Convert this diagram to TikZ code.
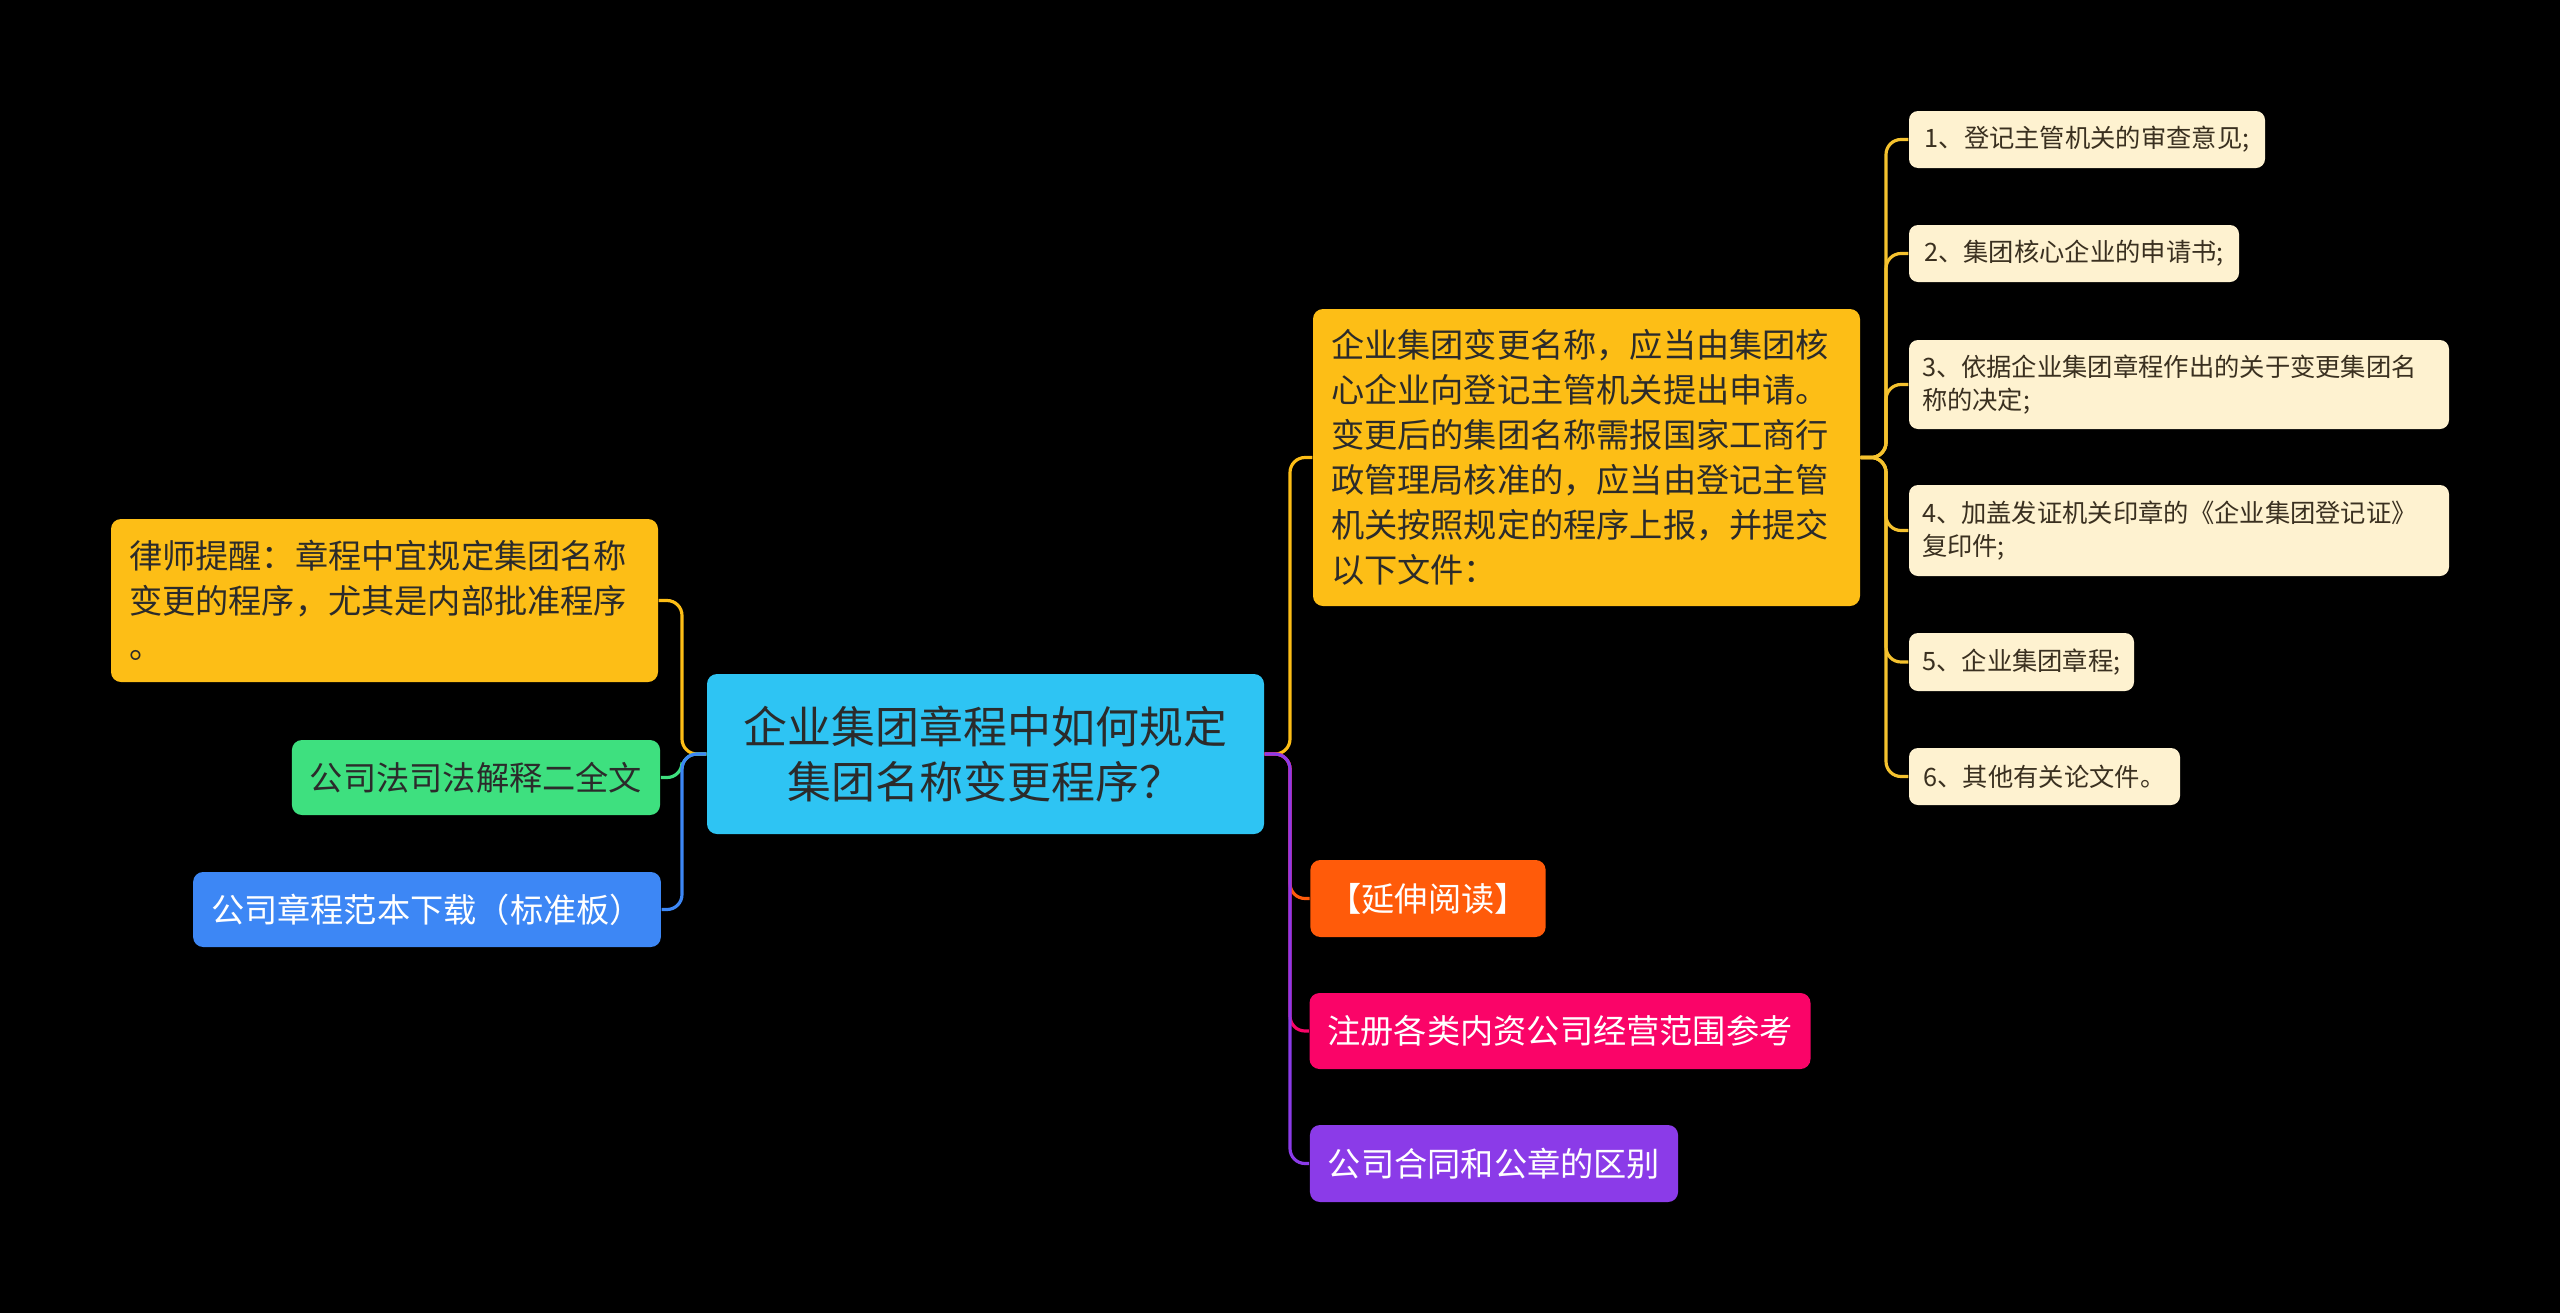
\documentclass[tikz,border=0pt]{standalone}
\usepackage{fontspec}
\setmainfont{Noto Sans CJK SC}
\definecolor{cyanroot}{HTML}{2EC4F3}
\definecolor{ylw}{HTML}{FDBE16}
\definecolor{grn}{HTML}{3EE07F}
\definecolor{blu}{HTML}{3D87F5}
\definecolor{cream}{HTML}{FEF2D0}
\definecolor{org}{HTML}{FF5B0A}
\definecolor{pnk}{HTML}{FA0468}
\definecolor{prp}{HTML}{8B3BE8}
\definecolor{darktxt}{HTML}{2B2B2B}
\definecolor{childtxt}{HTML}{3A3020}
\definecolor{ylwline}{HTML}{F5C22E}
\begin{document}
\begin{tikzpicture}[
  box/.style={rounded corners=0.1cm, inner ysep=0pt, inner xsep=0.18cm,
    font=\fontsize{9.45}{12.8}\selectfont},
  rootbox/.style={box, fill=cyanroot, text=darktxt, align=center,
    font=\fontsize{12.5}{15.8}\selectfont},
  leafbox/.style={rounded corners=0.09cm, inner ysep=0pt, inner xsep=0.13cm,
    fill=cream, text=childtxt, font=\fontsize{7.2}{9.3}\selectfont},
  conn/.style={line width=0.9pt, rounded corners=0.15cm}
]
\fill[black] (0,0) rectangle (25.6,-13.13);
\useasboundingbox (0,0) rectangle (25.6,-13.13);

% root
\node[rootbox, minimum width=5.57cm, minimum height=1.60cm] (root) at (9.855,-7.54)
  {企业集团章程中如何规定\\集团名称变更程序？};

% left side
\node[box, fill=ylw, text=darktxt, text width=5.11cm, align=left, minimum height=1.63cm] (lawyer) at (3.845,-6.005)
  {律师提醒：章程中宜规定集团名称\\变更的程序，尤其是内部批准程序\\。};
\node[box, fill=grn, text=darktxt, minimum width=3.64cm, minimum height=0.75cm] (green) at (4.76,-7.775)
  {公司法司法解释二全文};
\node[box, fill=blu, text=white, minimum width=4.62cm, minimum height=0.75cm] (blue) at (4.27,-9.095)
  {公司章程范本下载（标准板）};

% right side
\node[box, fill=ylw, text=darktxt, text width=5.11cm, align=left, minimum height=2.97cm] (main) at (15.865,-4.575)
  {企业集团变更名称，应当由集团核\\心企业向登记主管机关提出申请。\\变更后的集团名称需报国家工商行\\政管理局核准的，应当由登记主管\\机关按照规定的程序上报，并提交\\以下文件：};
\node[box, fill=org, text=white, minimum width=2.30cm, minimum height=0.77cm] (orange) at (14.28,-8.985)
  {【延伸阅读】};
\node[box, fill=pnk, text=white, minimum width=4.94cm, minimum height=0.76cm] (pink) at (15.60,-10.31)
  {注册各类内资公司经营范围参考};
\node[box, fill=prp, text=white, minimum width=3.62cm, minimum height=0.77cm] (purple) at (14.94,-11.635)
  {公司合同和公章的区别};

% children
\node[leafbox, minimum width=3.56cm, minimum height=0.57cm] (c1) at (20.87,-1.395)
  {1、登记主管机关的审查意见;};
\node[leafbox, minimum width=3.30cm, minimum height=0.57cm] (c2) at (20.74,-2.535)
  {2、集团核心企业的申请书;};
\node[leafbox, text width=5.14cm, align=left, minimum height=0.89cm] (c3) at (21.79,-3.845)
  {3、依据企业集团章程作出的关于变更集团名\\称的决定;};
\node[leafbox, text width=5.14cm, align=left, minimum height=0.91cm] (c4) at (21.79,-5.305)
  {4、加盖发证机关印章的《企业集团登记证》\\复印件;};
\node[leafbox, minimum width=2.25cm, minimum height=0.58cm] (c5) at (20.215,-6.62)
  {5、企业集团章程;};
\node[leafbox, minimum width=2.71cm, minimum height=0.57cm] (c6) at (20.445,-7.765)
  {6、其他有关论文件。};

% trunk coordinates
\coordinate (lt) at (6.82,-7.54);
\coordinate (rt) at (12.90,-7.54);
\coordinate (ct) at (18.86,-4.575);

% left connectors
\draw[conn, ylw] (root.west) -- (lt) |- (lawyer.east);
\draw[conn, grn] (root.west) -- (lt) |- (green.east);
\draw[conn, blu] (root.west) -- (lt) |- (blue.east);

% right connectors
\draw[conn, ylw] (root.east) -- (rt) |- (main.west);
\draw[conn, org] (root.east) -- (rt) |- (orange.west);
\draw[conn, pnk] (root.east) -- (rt) |- (pink.west);
\draw[conn, prp] (root.east) -- (rt) |- (purple.west);

% children connectors
\foreach \c in {c1,c2,c3,c4,c5,c6}
  \draw[conn, ylwline] (main.east) -- (ct) |- (\c.west);
\end{tikzpicture}
\end{document}
